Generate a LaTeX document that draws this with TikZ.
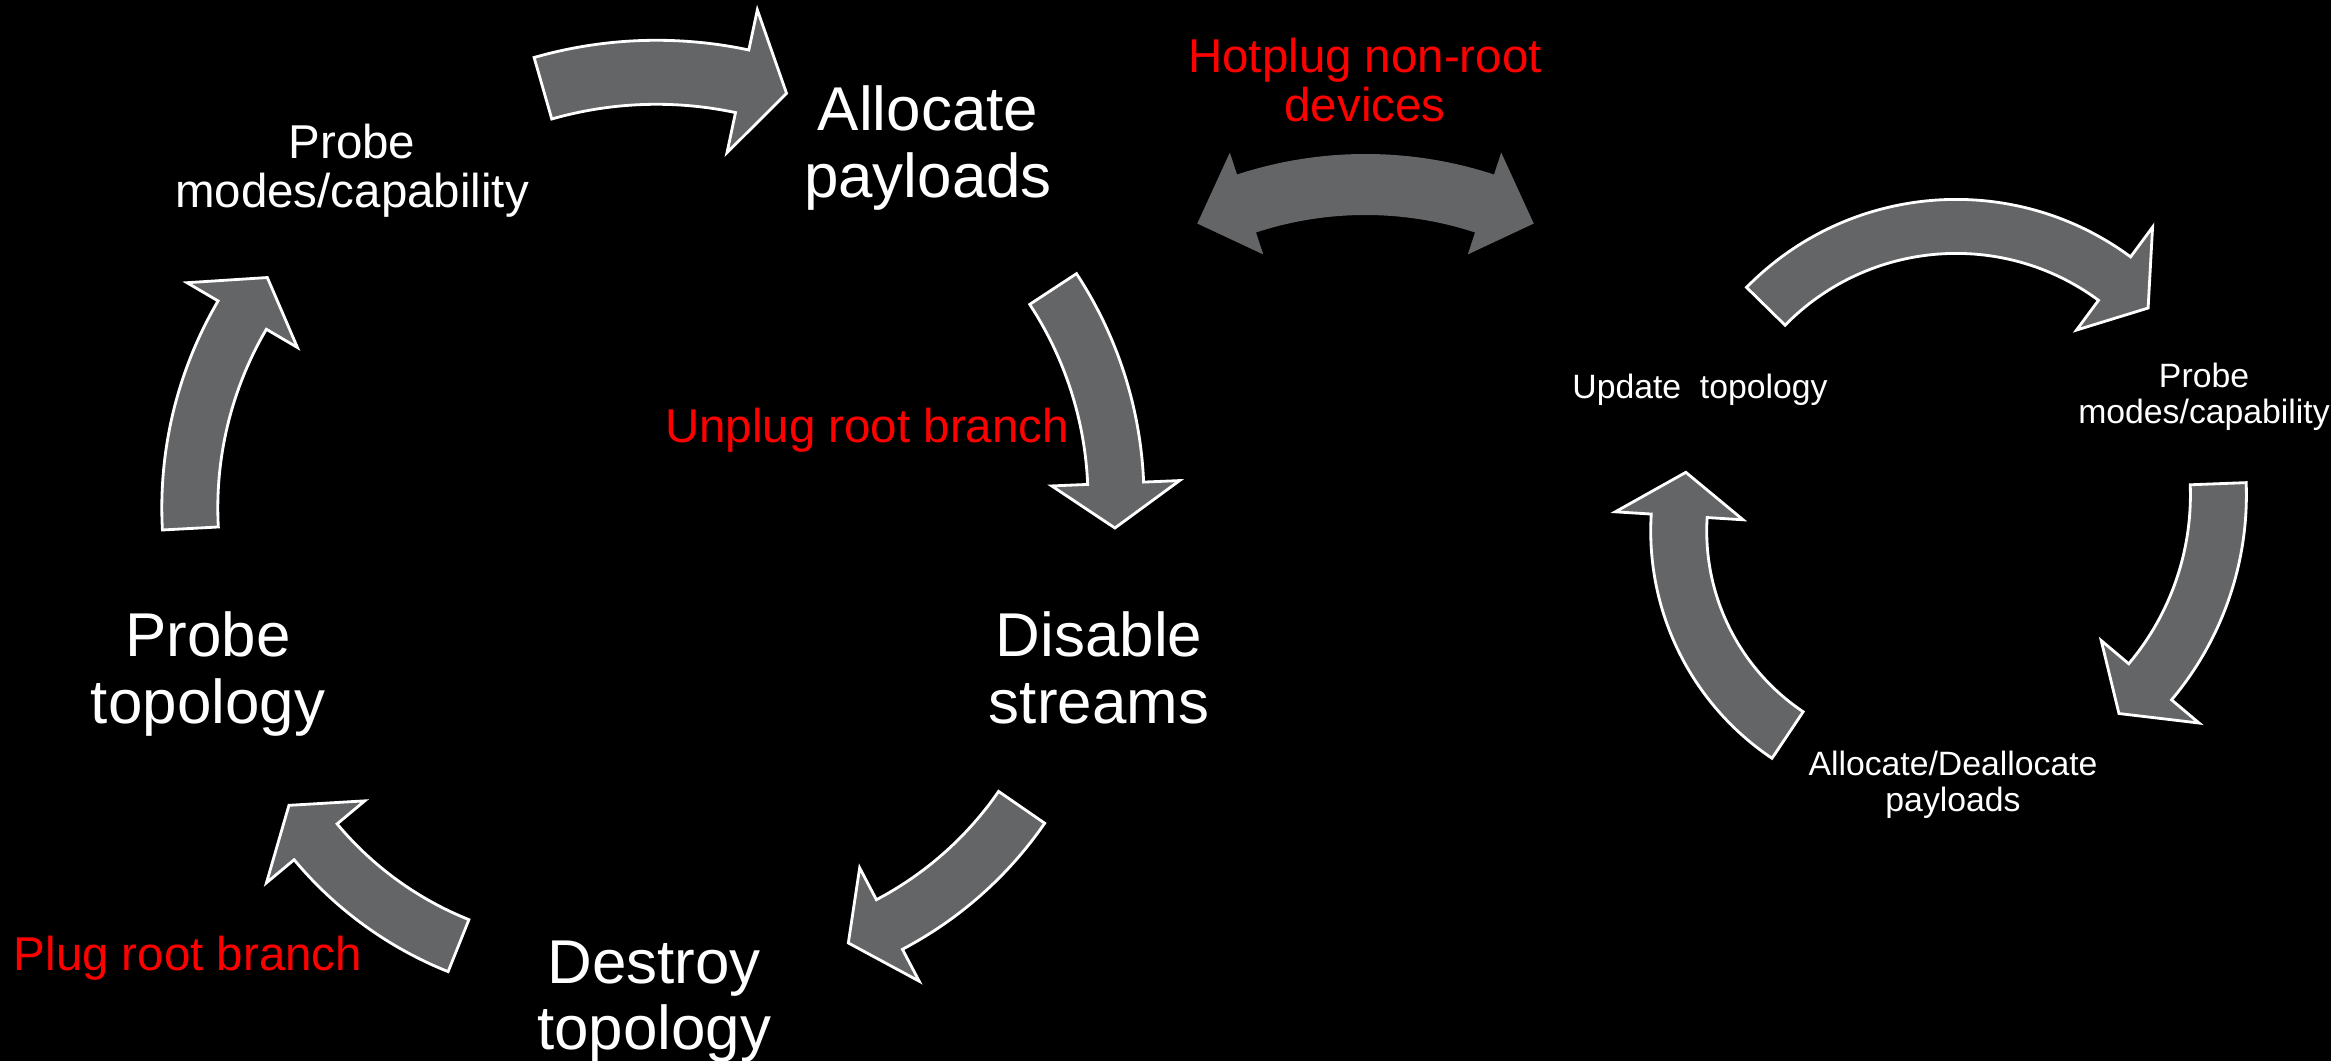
\documentclass[tikz,border=0pt]{standalone}
\usepackage{fontspec}
\setmainfont{Liberation Sans}
\usetikzlibrary{positioning}
\definecolor{cyclegrey}{HTML}{646567}
\definecolor{notered}{HTML}{FF0000}

% curved block arrow: [style] centre, radius, tail angle, head angle, tip angle, half body, half head
\newcommand{\cycarrow}[8][blockarr]{%
  \begin{scope}[shift={#2}]
    \path[#1] (#4:{#3+#7}) arc[start angle=#4, end angle=#5, radius=#3+#7]
      -- (#5:{#3+#8}) -- (#6:#3) -- (#5:{#3-#8}) -- (#5:{#3-#7})
      arc[start angle=#5, end angle=#4, radius=#3-#7] -- cycle;
  \end{scope}}

\begin{document}
\begin{tikzpicture}[x=0.01cm, y=0.01cm,
      bigtxt/.style={text=white, align=center, font=\fontsize{17.6}{19}\selectfont},
      midtxt/.style={text=white, align=center, font=\fontsize{13.5}{14}\selectfont},
      notetxt/.style={text=notered, align=center, font=\fontsize{13.5}{13.9}\selectfont},
      smalltxt/.style={text=white, align=center, font=\fontsize{9.6}{10.3}\selectfont},
      blockarr/.style={fill=cyclegrey, draw=white, line width=0.8pt, line join=miter},
      dblarr/.style={fill=cyclegrey}]

      \path[use as bounding box, fill=black] (0,0) rectangle (2331,1061);

      % left cycle
      \node[bigtxt] (alloc) at (928,913) {Allocate\\payloads};
      \node[midtxt] (probemodes) at (352,890) {Probe\\modes/capability};
      \node[bigtxt] (disable) at (1099,393.5) {Disable\\streams};
      \node[bigtxt] (probetopo) at (208,387) {Probe\\topology};
      \node[bigtxt] (destroy) at (654,59.3) {Destroy\\topology};

      \node[notetxt] (unplug) at (867,631) {Unplug root branch};
      \node[notetxt] (plug) at (188,103) {Plug root branch};
      \node[notetxt] (hotplug) at (1365,981) {Hotplug non-root\\devices};

      \cycarrow{(656.5,576.7)}{412}{106.0}{78.0}{71.6}{32}{73}
      \cycarrow{(733,561.7)}{383}{33.3}{2.4}{-4.3}{28}{64}
      \cycarrow{(717.9,463.2)}{369}{-34.6}{-62.3}{-69.3}{28}{64}
      \cycarrow{(592.2,449.6)}{360}{248.2}{219.8}{212.6}{28}{64}
      \cycarrow{(570.8,553.1)}{381}{183.1}{149.6}{142.8}{28}{64}

      % two-way arrow
      \begin{scope}[shift={(1365.5,494.5)}]
        \path[dblarr] (108.15:412.5) arc[start angle=108.15, end angle=71.85, radius=412.5]
          -- (71.85:435.6) -- (63.87:382) -- (71.85:328.4) -- (71.85:351.5)
          arc[start angle=71.85, end angle=108.15, radius=351.5]
          -- (108.15:328.4) -- (116.13:382) -- (108.15:435.6) -- cycle;
      \end{scope}

      % right cycle
      \node[smalltxt] (update) at (1700,671.5) {Update~~topology};
      \node[smalltxt] (rprobe) at (2204,664) {Probe\\modes/capability};
      \node[smalltxt] (ralloc) at (1953,276.5) {Allocate/Deallocate\\payloads};

      \cycarrow{(1956.1,568)}{266.6}{135.55}{53.54}{43.93}{27}{64}
      \cycarrow{(1928.4,566.1)}{290}{2.21}{-40.13}{-48.93}{28}{64}
      \cycarrow{(1924.2,529.9)}{245.5}{236.18}{176.43}{166.15}{28}{64}
    \end{tikzpicture}
\end{document}
